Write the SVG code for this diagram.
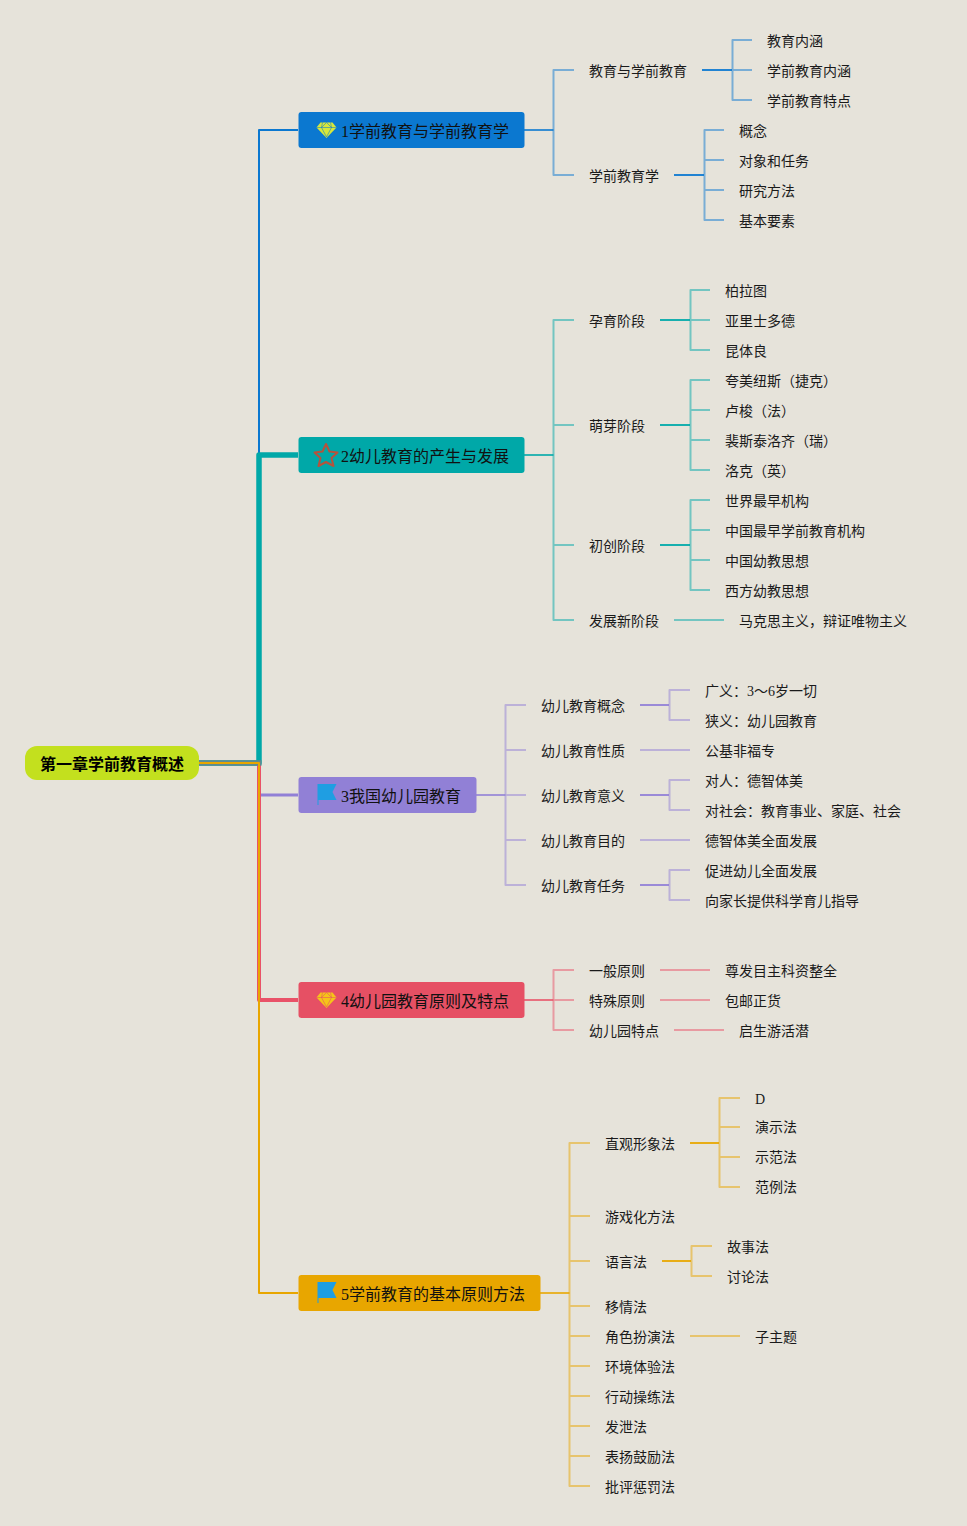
<svg xmlns="http://www.w3.org/2000/svg" width="967" height="1526" viewBox="0 0 967 1526">
<style>
text{font-family:"Liberation Serif","Noto Sans CJK SC",serif;fill:#1a1a1a}
.t{font-size:14px}
.h{font-size:16px;fill:#111}
.r{font-size:16px;font-weight:bold;font-family:"Liberation Sans","Noto Sans CJK SC",sans-serif;fill:#000}
path{fill:none;stroke-linejoin:round}
.b1{stroke:#0b78d0}.b2{stroke:#00a8a8}.b3{stroke:#9180d6}.b4{stroke:#e95268}.b5{stroke:#e8a600}
.m{stroke-width:2}
.s{stroke-width:2;opacity:.5}
.k{stroke-width:2;opacity:.9}
.u{stroke-width:2;opacity:.8}
</style>
<defs>
<g id="gem"><path d="M-6-7.500H6L10-2.500L0 8L-10-2.500Z" style="fill:currentColor"/><path d="M-10-2.500H10M-4-7.500L-5-2.500L0 7L5-2.500L4-7.500M-5-2.500L0-7.500L5-2.500" style="stroke:var(--f);stroke-opacity:.55;stroke-width:1"/></g>
<g id="flag"><path d="M-9-10H10L6-2L10 6H-8V11H-9Z" style="fill:#1f9ee2"/></g>
</defs>
<rect width="967" height="1526" fill="#e6e3da"/>
<g id="connectors">
<path class="b1 m" d="M199 763H259V130H298"/>
<path class="b2" stroke-width="5.500" d="M199 763H259V455H298"/>
<path class="b3" stroke-width="3" d="M199 763H259V795H298"/>
<path class="b4" stroke-width="4" d="M199 763H259V1000H298"/>
<path stroke="#5f8a90" stroke-width="5.500" d="M199 763H261.500"/>
<path class="b5 m" d="M199 763H259V1293H298"/>
<g><path class="u b1" d="M524 130H553.500"/><path class="s b1" d="M574 70H553.500V175H574M752 40H732.500V100H752M732.500 70H752M724 130H704.500V220H724M704.500 160H724M704.500 190H724"/><path class="k b1" d="M702 70H732M674 175H704"/></g>
<g><path class="u b2" d="M524 455H553.500"/><path class="s b2" d="M574 320H553.500V620H574M553.500 425H574M553.500 545H574M710 290H690.500V350H710M690.500 320H710M710 380H690.500V470H710M690.500 410H710M690.500 440H710M710 500H690.500V590H710M690.500 530H710M690.500 560H710M674 620H724"/><path class="k b2" d="M660 320H690M660 425H690M660 545H690"/></g>
<g><path class="u b3" d="M476 795H505.500"/><path class="s b3" d="M526 705H505.500V885H526M505.500 750H526M505.500 795H526M505.500 840H526M690 690H669.500V720H690M640 750H690M690 780H669.500V810H690M640 840H690M690 870H669.500V900H690"/><path class="k b3" d="M640 705H669M640 795H669M640 885H669"/></g>
<g><path class="u b4" d="M524 1000H553.500"/><path class="s b4" d="M574 970H553.500V1030H574M553.500 1000H574M660 970H710M660 1000H710M674 1030H724"/></g>
<g><path class="u b5" d="M540 1293H569.500"/><path class="s b5" d="M590 1143H569.500V1486H590M569.500 1216H590M569.500 1261H590M569.500 1306H590M569.500 1336H590M569.500 1366H590M569.500 1396H590M569.500 1426H590M569.500 1456H590M740 1098H719.500V1187H740M719.500 1127H740M719.500 1157H740M712 1246H691.500V1276H712M690 1336H740"/><path class="k b5" d="M690 1143H719M662 1261H691"/></g>
</g>
<g id="root"><rect x="25" y="746" width="174" height="34" rx="12" fill="#c3e01e"/><text class="r" x="40" y="770">第一章学前教育概述</text></g>
<g id="topic1"><rect x="298.500" y="112" width="226" height="36" rx="3" fill="#0b78d0"/><use href="#gem" x="326.500" y="130" color="#d8e83a" style="--f:#0b78d0"/><text class="h" x="341" y="137">1学前教育与学前教育学</text></g>
<g id="topic2"><rect x="298.500" y="437" width="226" height="36" rx="3" fill="#00a8a8"/><path d="M326 444L329.500 451.500L337.500 452.500L331.500 458L333.500 466L326 462L318.500 466L320.500 458L314.500 452.500L322.500 451.500Z" style="stroke:#b5533c;stroke-width:2;fill:none"/><text class="h" x="341" y="462">2幼儿教育的产生与发展</text></g>
<g id="topic3"><rect x="298.500" y="777" width="178" height="36" rx="3" fill="#9180d6"/><use href="#flag" x="326.500" y="794"/><text class="h" x="341" y="802">3我国幼儿园教育</text></g>
<g id="topic4"><rect x="298.500" y="982" width="226" height="36" rx="3" fill="#e65064"/><use href="#gem" x="326.500" y="1000" color="#f5c518" style="--f:#e65064"/><text class="h" x="341" y="1007">4幼儿园教育原则及特点</text></g>
<g id="topic5"><rect x="298.500" y="1275" width="242" height="36" rx="3" fill="#e8a600"/><use href="#flag" x="326.500" y="1292"/><text class="h" x="341" y="1300">5学前教育的基本原则方法</text></g>
<g id="labels" class="t">
<text class="t" x="589" y="76">教育与学前教育</text><text class="t" x="767" y="46">教育内涵</text><text class="t" x="767" y="76">学前教育内涵</text><text class="t" x="767" y="106">学前教育特点</text>
<text class="t" x="589" y="181">学前教育学</text><text class="t" x="739" y="136">概念</text><text class="t" x="739" y="166">对象和任务</text><text class="t" x="739" y="196">研究方法</text><text class="t" x="739" y="226">基本要素</text>
<text class="t" x="589" y="326">孕育阶段</text><text class="t" x="725" y="296">柏拉图</text><text class="t" x="725" y="326">亚里士多德</text><text class="t" x="725" y="356">昆体良</text>
<text class="t" x="589" y="431">萌芽阶段</text><text class="t" x="725" y="386">夸美纽斯（捷克）</text><text class="t" x="725" y="416">卢梭（法）</text><text class="t" x="725" y="446">裴斯泰洛齐（瑞）</text><text class="t" x="725" y="476">洛克（英）</text>
<text class="t" x="589" y="551">初创阶段</text><text class="t" x="725" y="506">世界最早机构</text><text class="t" x="725" y="536">中国最早学前教育机构</text><text class="t" x="725" y="566">中国幼教思想</text><text class="t" x="725" y="596">西方幼教思想</text>
<text class="t" x="589" y="626">发展新阶段</text><text class="t" x="739" y="626">马克思主义，辩证唯物主义</text>
<text class="t" x="541" y="711">幼儿教育概念</text><text class="t" x="705" y="696">广义：3～6岁一切</text><text class="t" x="705" y="726">狭义：幼儿园教育</text>
<text class="t" x="541" y="756">幼儿教育性质</text><text class="t" x="705" y="756">公基非福专</text>
<text class="t" x="541" y="801">幼儿教育意义</text><text class="t" x="705" y="786">对人：德智体美</text><text class="t" x="705" y="816">对社会：教育事业、家庭、社会</text>
<text class="t" x="541" y="846">幼儿教育目的</text><text class="t" x="705" y="846">德智体美全面发展</text>
<text class="t" x="541" y="891">幼儿教育任务</text><text class="t" x="705" y="876">促进幼儿全面发展</text><text class="t" x="705" y="906">向家长提供科学育儿指导</text>
<text class="t" x="589" y="976">一般原则</text><text class="t" x="725" y="976">尊发目主科资整全</text>
<text class="t" x="589" y="1006">特殊原则</text><text class="t" x="725" y="1006">包邮正货</text>
<text class="t" x="589" y="1036">幼儿园特点</text><text class="t" x="739" y="1036">启生游活潜</text>
<text class="t" x="605" y="1149">直观形象法</text><text class="t" x="755" y="1104">D</text><text class="t" x="755" y="1132">演示法</text><text class="t" x="755" y="1162">示范法</text><text class="t" x="755" y="1192">范例法</text>
<text class="t" x="605" y="1222">游戏化方法</text>
<text class="t" x="605" y="1267">语言法</text><text class="t" x="727" y="1252">故事法</text><text class="t" x="727" y="1282">讨论法</text>
<text class="t" x="605" y="1312">移情法</text>
<text class="t" x="605" y="1342">角色扮演法</text><text class="t" x="755" y="1342">子主题</text>
<text class="t" x="605" y="1372">环境体验法</text><text class="t" x="605" y="1402">行动操练法</text><text class="t" x="605" y="1432">发泄法</text><text class="t" x="605" y="1462">表扬鼓励法</text><text class="t" x="605" y="1492">批评惩罚法</text>
</g>
</svg>
